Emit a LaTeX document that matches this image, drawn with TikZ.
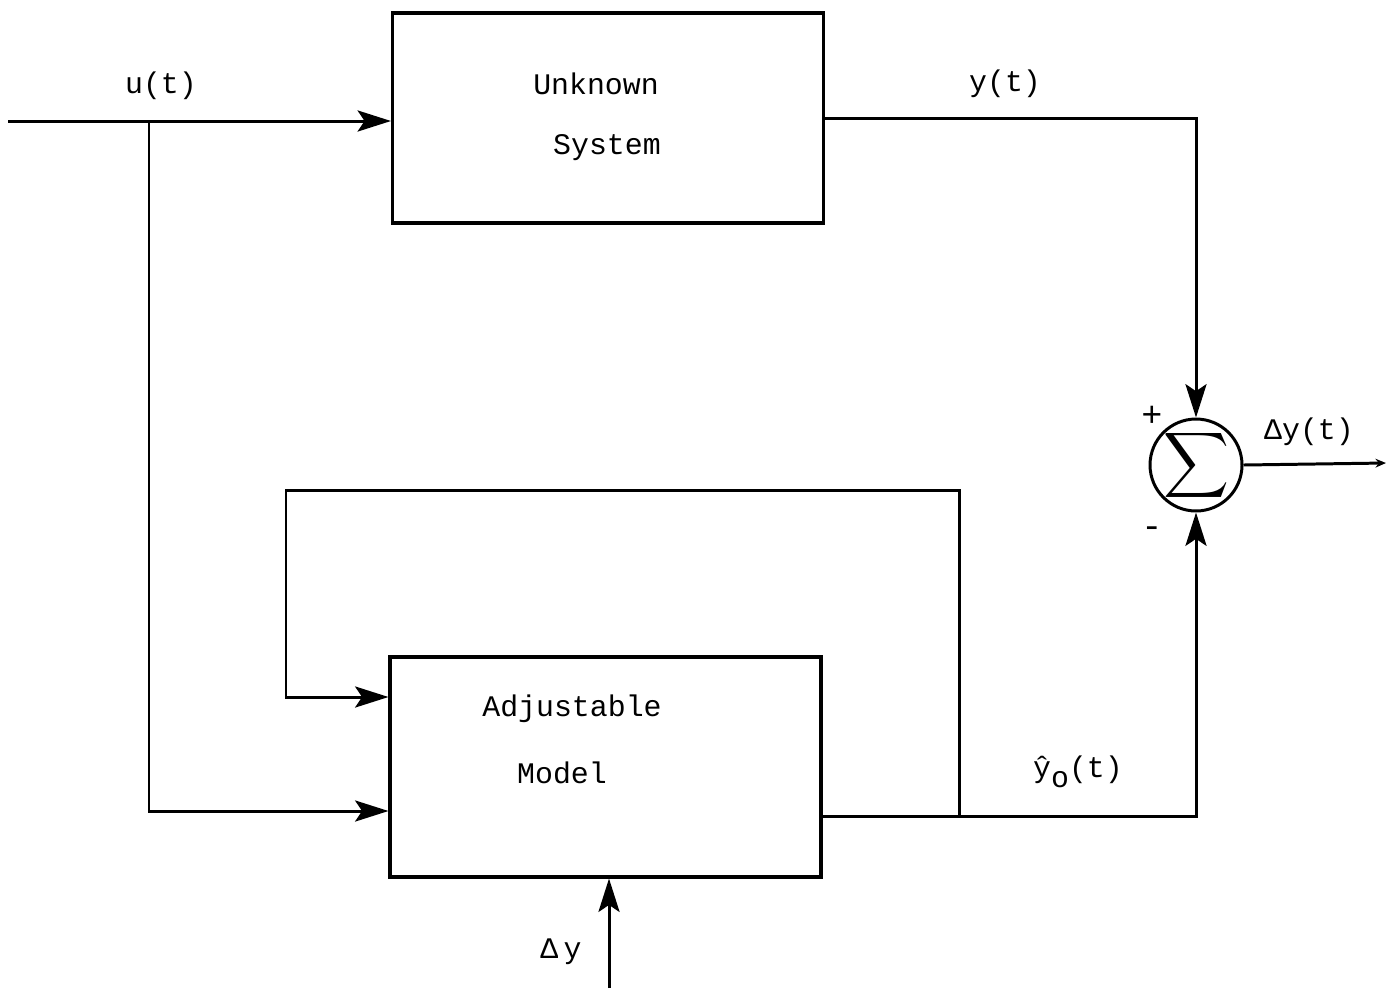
\documentclass[tikz,border=0pt]{standalone}
\usepackage{fontspec}
\usepackage{graphicx}
\setmainfont{Liberation Mono}
\usetikzlibrary{arrows.meta,positioning}
\tikzset{
  blockbox/.style={draw,line width=1.8pt,minimum width=8.62cm,inner sep=0pt},
  sig/.style={line width=1.7pt,-{Stealth[length=19pt,width=12pt,inset=4pt]}},
  wire/.style={line width=1.7pt},
  lbl/.style={font=\fontsize{17}{20}\selectfont,inner sep=0pt}
}
\begin{document}
\begin{tikzpicture}[x=0.02cm,y=-0.02cm]
  \useasboundingbox (0,0) rectangle (1389,988);

  % Unknown system
  \node[blockbox,minimum height=4.2cm] (unk) at (608,118) {};
  \node[lbl] (unkA) at (596,84) {Unknown};
  \node[lbl] (unkB) at (607,148) {System};

  % Adjustable model
  \node[blockbox,minimum height=4.4cm] (mdl) at (605.5,767) {};
  \node[lbl] (mdlA) at (572,709) {Adjustable};
  \node[lbl] (mdlB) at (562,773) {Model};

  % Summing junction
  \node[draw,circle,line width=1.7pt,minimum size=1.84cm,inner sep=0pt] (sum) at (1196,465) {};
  \node[inner sep=0pt] (sigma) at (sum.center) {\scalebox{2.6}{$\displaystyle\sum$}};
  \node[lbl,font=\fontsize{20}{20}\selectfont] (plus) at (1152,416) {+};
  \node[lbl,font=\fontsize{20}{20}\selectfont] (minus) at (1152,532) {-};

  % helper points
  \coordinate (in) at (8,121);
  \coordinate (split) at (149,121);
  \coordinate (lowrow) at (0,811);
  \coordinate (outrow) at (0,816);
  \coordinate (tap) at (959,816);
  \coordinate (fbtop) at (286,490);
  \coordinate (fbrow) at (0,697);
  \coordinate (dyin) at (609,988);
  \coordinate (dyout) at (1386,463);

  % connectors
  \draw[sig] (in) -- (in -| unk.west);
  \draw[sig] (split) |- (mdl.west |- lowrow);
  \draw[sig] (unk.east) -| (sum.north);
  \draw[sig] (mdl.east |- outrow) -| (sum.south);
  \draw[sig] (tap) |- (fbtop) |- (mdl.west |- fbrow);
  \draw[sig] (dyin) -- (dyin |- mdl.south);
  \draw[wire,-{Stealth[length=6pt,width=5pt]}] (sum.east) -- (dyout);

  % signal labels
  \node[lbl] (ulbl) at (161,86) {u(t)};
  \node[lbl] (ylbl) at (1005,84) {y(t)};
  \node[lbl] (dylbl) at (1309,432) {Δy(t)};
  \node[lbl] (yhlbl) at (1078,772) {ŷ\raisebox{-0.6ex}{o}(t)};
  \node[lbl] (dlbl) at (561,952) {Δ\hspace{3pt}y};
\end{tikzpicture}
\end{document}
